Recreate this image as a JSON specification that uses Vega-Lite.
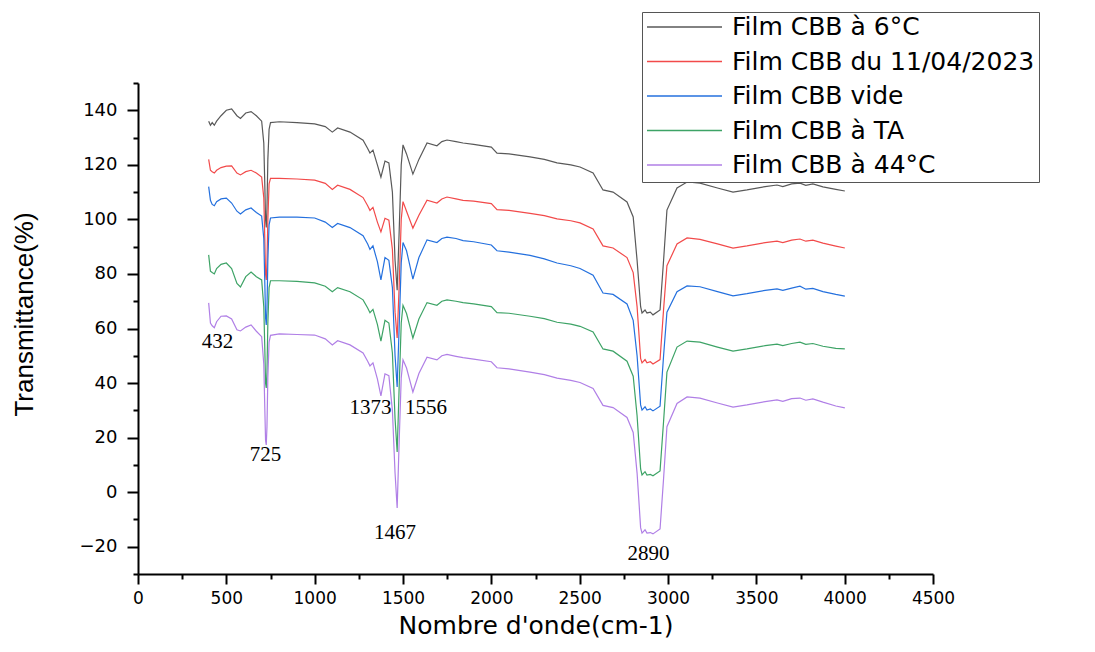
{
  "$schema": "https://vega.github.io/schema/vega-lite/v6.json",
  "width": 795,
  "height": 491,
  "autosize": {"type": "none"},
  "padding": {"left": 138, "top": 83, "right": 162, "bottom": 78},
  "background": "white",
  "config": {"view": {"stroke": null}, "font": "Liberation Sans"},
  "datasets": {
    "spec": [
      {"x": 400, "a": 136, "b": 122, "c": 112, "d": 87, "e": 69.4},
      {"x": 410, "a": 134.5, "b": 118, "c": 107, "d": 81, "e": 62},
      {"x": 420, "a": 135.5, "b": 117.5, "c": 105.5, "d": 80.5, "e": 61},
      {"x": 432, "a": 134.5, "b": 117, "c": 105, "d": 80, "e": 60.3},
      {"x": 445, "a": 136, "b": 118, "c": 106.5, "d": 82, "e": 62.5},
      {"x": 470, "a": 138, "b": 119, "c": 107.5, "d": 83.5, "e": 64.5},
      {"x": 500, "a": 140, "b": 119.5, "c": 107.8, "d": 84, "e": 64.6},
      {"x": 530, "a": 140.5, "b": 119.6, "c": 106, "d": 82, "e": 63.5},
      {"x": 560, "a": 138, "b": 117, "c": 103, "d": 76.5, "e": 59.5},
      {"x": 580, "a": 137, "b": 116.3, "c": 102, "d": 75.2, "e": 59.1},
      {"x": 610, "a": 139, "b": 117.5, "c": 103.5, "d": 79, "e": 60.5},
      {"x": 640, "a": 139.5, "b": 118, "c": 104.2, "d": 80.7, "e": 61.3},
      {"x": 670, "a": 138, "b": 117, "c": 102.5, "d": 79, "e": 59},
      {"x": 700, "a": 136, "b": 115.5, "c": 101.2, "d": 77.8, "e": 57},
      {"x": 712, "a": 128, "b": 108, "c": 93, "d": 68, "e": 47},
      {"x": 718, "a": 112, "b": 92, "c": 76, "d": 52, "e": 30},
      {"x": 722, "a": 100, "b": 80, "c": 64, "d": 40, "e": 19},
      {"x": 726, "a": 97, "b": 77.8, "c": 61.3, "d": 38.2, "e": 17.3},
      {"x": 730, "a": 104, "b": 84, "c": 67, "d": 44, "e": 24},
      {"x": 735, "a": 122, "b": 100, "c": 85, "d": 62, "e": 42},
      {"x": 742, "a": 133, "b": 113, "c": 98, "d": 75, "e": 55},
      {"x": 750, "a": 135.5, "b": 115, "c": 100.5, "d": 77.5, "e": 57.5},
      {"x": 800, "a": 135.8, "b": 115, "c": 100.8, "d": 77.5, "e": 58},
      {"x": 900, "a": 135.5, "b": 114.8, "c": 100.8, "d": 77.3, "e": 57.8},
      {"x": 1000, "a": 135, "b": 114.4, "c": 100.5, "d": 76.7, "e": 57.6},
      {"x": 1060, "a": 134, "b": 113.2, "c": 99, "d": 75.5, "e": 56.2},
      {"x": 1100, "a": 132, "b": 111, "c": 97, "d": 73.5, "e": 54},
      {"x": 1130, "a": 133.5, "b": 112.5, "c": 98.5, "d": 75, "e": 55.5},
      {"x": 1200, "a": 132, "b": 111, "c": 97, "d": 73.5, "e": 54},
      {"x": 1274, "a": 129, "b": 108, "c": 94, "d": 70.5, "e": 51},
      {"x": 1300, "a": 126, "b": 105, "c": 91, "d": 67.5, "e": 48},
      {"x": 1313, "a": 124.3, "b": 103.3, "c": 89, "d": 65.8, "e": 46.3},
      {"x": 1330, "a": 125.4, "b": 104.4, "c": 90.3, "d": 67, "e": 47.4},
      {"x": 1355, "a": 120, "b": 99, "c": 84.5, "d": 61.5, "e": 41.5},
      {"x": 1375, "a": 115.5, "b": 95.4, "c": 77.8, "d": 55.4, "e": 35.3},
      {"x": 1398, "a": 121.4, "b": 100.4, "c": 86, "d": 63, "e": 43.4},
      {"x": 1420, "a": 120.7, "b": 99.7, "c": 85, "d": 62, "e": 42.7},
      {"x": 1440, "a": 110, "b": 89, "c": 75, "d": 51, "e": 30},
      {"x": 1455, "a": 85, "b": 66, "c": 50, "d": 27, "e": 7},
      {"x": 1467, "a": 74, "b": 56.5, "c": 38.6, "d": 14.7, "e": -5.8},
      {"x": 1478, "a": 95, "b": 75, "c": 60, "d": 38, "e": 18},
      {"x": 1490, "a": 120, "b": 100, "c": 84, "d": 62, "e": 42},
      {"x": 1500, "a": 127.3, "b": 106.5, "c": 91.5, "d": 68.5, "e": 48.5},
      {"x": 1520, "a": 124, "b": 103, "c": 88.5, "d": 65.5, "e": 45.5},
      {"x": 1556, "a": 116.6, "b": 96.8, "c": 78.1, "d": 56.5, "e": 36.7},
      {"x": 1590, "a": 122, "b": 101.5, "c": 86, "d": 63.5, "e": 43.5},
      {"x": 1636, "a": 128, "b": 107, "c": 92.5, "d": 69.5, "e": 49.5},
      {"x": 1692, "a": 127, "b": 106, "c": 91.5, "d": 68.5, "e": 48.5},
      {"x": 1720, "a": 128.5, "b": 107.5, "c": 93, "d": 70, "e": 50},
      {"x": 1749, "a": 129.1, "b": 108.2, "c": 93.5, "d": 70.5, "e": 50.5},
      {"x": 1800, "a": 128.5, "b": 107.5, "c": 93, "d": 70, "e": 49.8},
      {"x": 1840, "a": 128, "b": 107, "c": 92.2, "d": 69.5, "e": 49.3},
      {"x": 1900, "a": 127.5, "b": 106.7, "c": 91.8, "d": 69, "e": 48.8},
      {"x": 2000, "a": 126.5, "b": 105.8, "c": 90.6, "d": 68, "e": 47.8},
      {"x": 2032, "a": 124.3, "b": 103.6, "c": 88.5, "d": 65.8, "e": 45.6},
      {"x": 2100, "a": 124, "b": 103.3, "c": 88, "d": 65.6, "e": 45.2},
      {"x": 2219, "a": 122.9, "b": 102.2, "c": 86.8, "d": 64.5, "e": 44},
      {"x": 2300, "a": 122, "b": 101.4, "c": 85.5, "d": 63.6, "e": 43.1},
      {"x": 2372, "a": 120.7, "b": 100.2, "c": 84, "d": 62.3, "e": 41.8},
      {"x": 2450, "a": 120, "b": 99.5, "c": 83, "d": 61.6, "e": 41},
      {"x": 2502, "a": 119.2, "b": 98.7, "c": 82, "d": 60.8, "e": 40.2},
      {"x": 2576, "a": 117, "b": 96.5, "c": 79.5, "d": 58.7, "e": 38},
      {"x": 2632, "a": 110.8, "b": 90.3, "c": 73, "d": 52.5, "e": 31.8},
      {"x": 2689, "a": 110, "b": 89.5, "c": 72.5, "d": 51.7, "e": 31},
      {"x": 2768, "a": 106.4, "b": 86, "c": 69, "d": 48, "e": 27.4},
      {"x": 2803, "a": 100.9, "b": 80.5, "c": 63, "d": 42.5, "e": 21.9},
      {"x": 2825, "a": 85, "b": 68, "c": 50, "d": 28, "e": 7},
      {"x": 2845, "a": 68, "b": 49, "c": 32, "d": 8.5, "e": -13},
      {"x": 2853, "a": 65.7, "b": 47.4, "c": 30.1, "d": 6.3, "e": -15},
      {"x": 2870, "a": 66.8, "b": 48.6, "c": 31.3, "d": 7.5, "e": -13.8},
      {"x": 2881, "a": 65.7, "b": 47.4, "c": 30.1, "d": 6.3, "e": -15},
      {"x": 2900, "a": 66, "b": 47.8, "c": 30.5, "d": 6.5, "e": -14.8},
      {"x": 2915, "a": 65, "b": 47, "c": 29.8, "d": 6, "e": -15.3},
      {"x": 2955, "a": 66.8, "b": 48.6, "c": 31.5, "d": 7.8, "e": -13.5},
      {"x": 2975, "a": 85, "b": 67, "c": 50, "d": 26, "e": 5},
      {"x": 2994, "a": 103.4, "b": 83, "c": 66, "d": 44, "e": 24},
      {"x": 3051, "a": 111.5, "b": 91, "c": 73.5, "d": 53.2, "e": 32.5},
      {"x": 3108, "a": 113.7, "b": 93.2, "c": 75.6, "d": 55.4, "e": 34.9},
      {"x": 3181, "a": 113.3, "b": 92.7, "c": 75.3, "d": 55, "e": 34.5},
      {"x": 3280, "a": 111.5, "b": 91, "c": 73.5, "d": 53.2, "e": 32.7},
      {"x": 3368, "a": 110, "b": 89.5, "c": 72, "d": 51.7, "e": 31.2},
      {"x": 3447, "a": 110.8, "b": 90.3, "c": 72.8, "d": 52.5, "e": 32},
      {"x": 3550, "a": 112, "b": 91.5, "c": 74, "d": 53.7, "e": 33.2},
      {"x": 3617, "a": 112.6, "b": 92, "c": 74.5, "d": 54.3, "e": 33.8},
      {"x": 3650, "a": 112, "b": 91.5, "c": 74, "d": 53.7, "e": 33.3},
      {"x": 3700, "a": 113, "b": 92.4, "c": 74.8, "d": 54.5, "e": 34.3},
      {"x": 3747, "a": 113.3, "b": 92.8, "c": 75.5, "d": 55, "e": 34.5},
      {"x": 3780, "a": 112.5, "b": 92, "c": 74.4, "d": 54.2, "e": 33.7},
      {"x": 3820, "a": 113, "b": 92.4, "c": 74.7, "d": 54.5, "e": 34.2},
      {"x": 3877, "a": 111.9, "b": 91.3, "c": 73.5, "d": 53.5, "e": 33},
      {"x": 3950, "a": 111, "b": 90.2, "c": 72.5, "d": 52.7, "e": 31.6},
      {"x": 4001, "a": 110.4, "b": 89.5, "c": 71.9, "d": 52.5, "e": 30.9}
    ],
    "ann": [
      {"x": 450, "T": 54.9, "label": "432"},
      {"x": 722, "T": 13.6, "label": "725"},
      {"x": 1316, "T": 30.7, "label": "1373"},
      {"x": 1630, "T": 30.7, "label": "1556"},
      {"x": 1455, "T": -14.8, "label": "1467"},
      {"x": 2890, "T": -22.5, "label": "2890"}
    ]
  },
  "layer": [
    {
      "data": {"name": "spec"},
      "transform": [{"fold": ["a", "b", "c", "d", "e"], "as": ["serie", "T"]}],
      "mark": {"type": "line", "strokeWidth": 1.2},
      "encoding": {
        "x": {
          "field": "x", "type": "quantitative",
          "scale": {"domain": [0, 4500], "nice": false, "zero": false},
          "axis": {
            "title": "Nombre d'onde(cm-1)",
            "values": [0, 500, 1000, 1500, 2000, 2500, 3000, 3500, 4000, 4500],
            "format": "d",
            "grid": false, "domainColor": "black", "domainWidth": 2,
            "tickColor": "black", "tickWidth": 2, "tickSize": 10,
            "labelFont": "DejaVu Sans", "labelFontSize": 17, "labelColor": "black", "labelPadding": 6,
            "labelFlush": false, "labelOverlap": false,
            "titleFont": "DejaVu Sans", "titleFontSize": 25, "titleFontWeight": "normal", "titleColor": "black",
            "titleY": 59, "titleBaseline": "alphabetic"
          }
        },
        "y": {
          "field": "T", "type": "quantitative",
          "scale": {"domain": [-30, 150], "nice": false, "zero": false},
          "axis": {
            "title": "Transmittance(%)",
            "values": [-20, 0, 20, 40, 60, 80, 100, 120, 140],
            "format": "d",
            "grid": false, "domainColor": "black", "domainWidth": 2,
            "tickColor": "black", "tickWidth": 2, "tickSize": 11,
            "labelFont": "DejaVu Sans", "labelFontSize": 18, "labelColor": "black", "labelPadding": 10,
            "labelFlush": false, "labelOverlap": false,
            "titleFont": "Liberation Sans", "titleFontSize": 26, "titleFontWeight": "normal", "titleColor": "black",
            "titleAngle": 270, "titleX": -106, "titleY": 231, "titleBaseline": "alphabetic", "titleAlign": "center"
          }
        },
        "color": {
          "field": "serie", "type": "nominal",
          "scale": {"domain": ["a", "b", "c", "d", "e"], "range": ["#595959", "#f24a4a", "#2470de", "#3da366", "#b07fe6"]},
          "legend": {
            "orient": "none", "legendX": 504, "legendY": -71, "title": null,
            "labelExpr": "{'a': 'Film CBB à 6°C', 'b': 'Film CBB du 11/04/2023', 'c': 'Film CBB vide', 'd': 'Film CBB à TA', 'e': 'Film CBB à 44°C'}[datum.label]",
            "symbolType": "stroke", "symbolSize": 5625, "symbolStrokeWidth": 1.5,
            "labelFont": "DejaVu Sans", "labelFontSize": 25, "labelColor": "black", "labelOffset": 9, "labelLimit": 500,
            "strokeColor": "#555", "fillColor": "white", "padding": 4, "clipHeight": 22, "rowPadding": 9.5
          }
        }
      }
    },
    {
      "data": {"name": "ann"},
      "mark": {"type": "text", "font": "Liberation Serif", "fontSize": 21, "color": "black", "baseline": "middle", "align": "center"},
      "encoding": {
        "x": {
          "field": "x", "type": "quantitative",
          "axis": {"orient": "bottom", "values": [250, 750, 1250, 1750, 2250, 2750, 3250, 3750, 4250], "labels": false, "domain": false, "grid": false, "tickSize": 5, "tickWidth": 2, "tickColor": "black", "title": null}
        },
        "y": {
          "field": "T", "type": "quantitative",
          "axis": {"orient": "left", "values": [-30, -10, 10, 30, 50, 70, 90, 110, 130, 150], "labels": false, "domain": false, "grid": false, "tickSize": 5, "tickWidth": 2, "tickColor": "black", "title": null}
        },
        "text": {"field": "label"}
      }
    }
  ],
  "resolve": {"axis": {"x": "independent", "y": "independent"}}
}
